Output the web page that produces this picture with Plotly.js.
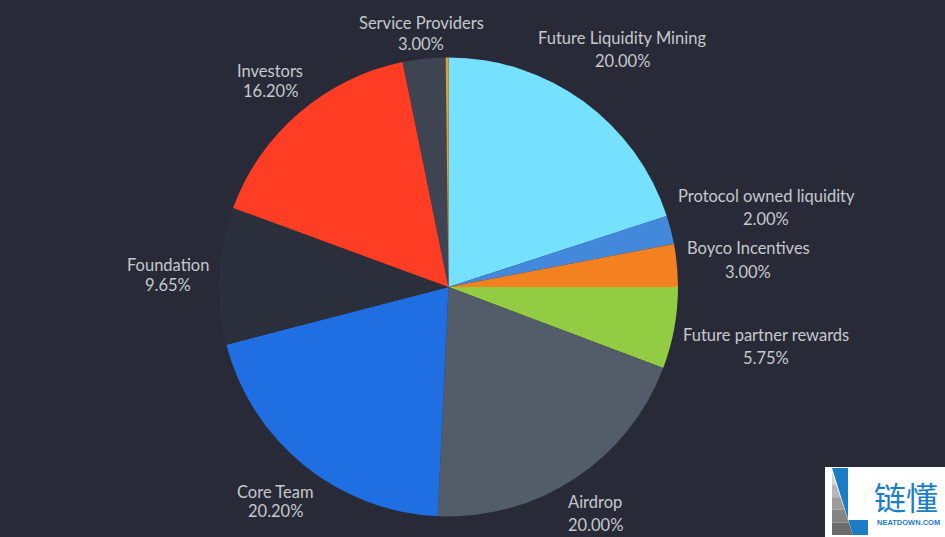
<!DOCTYPE html>
<html><head><meta charset="utf-8">
<script src="https://cdn.plot.ly/plotly-3.0.1.min.js"></script>
<style>html,body{margin:0;padding:0;background:#282b37;overflow:hidden}</style>
</head><body><div id="chart" style="width:945px;height:537px"></div>
<script>
const categories = ["Future Liquidity Mining","Protocol owned liquidity","Boyco Incentives","Future partner rewards","Airdrop","Core Team","Foundation","Investors","Service Providers","Other"];
const values = [20.00,2.00,3.00,5.75,20.00,20.20,9.65,16.20,3.00,0.20];
const colors = ["#76e0ff","#4488dc","#f4811f","#92cc42","#535c69","#1f6fe3","#2b2e3b","#ff3c24","#3f4452","#e0a030"];
const labelPct = ["20.00%","2.00%","3.00%","5.75%","20.00%","20.20%","9.65%","16.20%","3.00%"];
const labelPos = [[622,38,61],[766,196,219],[748,248,272],[766,335,358],[595,502,525],[275,492,511],[168,265,285],[270,71,91],[421,23,44]];
const logoGrays = ["#d4d4d4","#b8b8b8","#9c9c9c","#848484","#6c6c6c"];
const W=945,H=537;
const px=x=>x/W, py=y=>1-y/H;
const annotations=[];
labelPos.forEach((p,i)=>{
  annotations.push({xref:'paper',yref:'paper',x:px(p[0]),y:py(p[1]),text:categories[i],showarrow:false,xanchor:'center',yanchor:'middle',font:{family:'Lato, sans-serif',size:16.5,color:'#c6c8ce'}});
  annotations.push({xref:'paper',yref:'paper',x:px(p[0]),y:py(p[2]),text:labelPct[i],showarrow:false,xanchor:'center',yanchor:'middle',font:{family:'Lato, sans-serif',size:16.5,color:'#c6c8ce'}});
});
annotations.push({xref:'paper',yref:'paper',x:px(906),y:py(496),text:'链懂',showarrow:false,xanchor:'center',yanchor:'middle',font:{family:'"Noto Sans CJK SC", sans-serif',size:32,color:'#1d7cc6'}});
annotations.push({xref:'paper',yref:'paper',x:px(908),y:py(522),text:'<b>NEATDOWN.COM</b>',showarrow:false,xanchor:'center',yanchor:'middle',font:{family:'"Liberation Sans", sans-serif',size:7.5,color:'#1d7cc6'}});
const poly=pts=>'M'+pts.map(p=>px(p[0])+','+py(p[1])).join(' L')+' Z';
const shapes=[
 {type:'rect',xref:'paper',yref:'paper',x0:px(825),x1:px(945),y0:py(537),y1:py(467),fillcolor:'#ffffff',line:{width:0}},
 {type:'path',xref:'paper',yref:'paper',path:poly([[832,468],[848,468],[848,520],[868,520],[868,535],[853,535]]),fillcolor:'#1d7cc6',line:{width:0}}
];
logoGrays.forEach((c,i)=>{
  const y0=472+i*12.6, y1=y0+12.6, d=y=>832+(y-472)*21/63;
  shapes.push({type:'path',xref:'paper',yref:'paper',path:poly([[832,y0],[d(y0),y0],[d(y1),y1],[832,y1]]),fillcolor:c,line:{width:0}});
});
Plotly.newPlot('chart',[{
  type:'pie',labels:categories,values:values,sort:false,direction:'clockwise',rotation:0,
  marker:{colors:colors,line:{width:0}},textinfo:'none',hoverinfo:'label+percent',showlegend:false,
  domain:{x:[219/W,678/W],y:[1-516.5/H,1-57.5/H]}
}],{
  width:W,height:H,margin:{l:0,r:0,t:0,b:0},paper_bgcolor:'#282b37',plot_bgcolor:'#282b37',
  showlegend:false,annotations,shapes
},{displayModeBar:false,staticPlot:true});
</script></body></html>
